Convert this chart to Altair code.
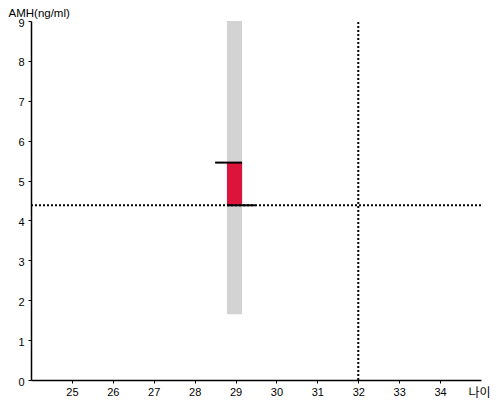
import altair as alt
import pandas as pd

# data
bar_x = [28.79]
bar_x2 = [29.16]
range_low = [1.65]
range_high = [9.0]
val_low = [4.38]
val_high = [5.45]
top_tick_x = [28.5]
top_tick_x2 = [29.16]
bot_tick_x = [28.79]
bot_tick_x2 = [29.48]
x_domain = [24, 35]
y_domain = [0, 9]
x_ticks = [25, 26, 27, 28, 29, 30, 31, 32, 33, 34]
y_ticks = [0, 1, 2, 3, 4, 5, 6, 7, 8, 9]
vline_x = [32]

xs = alt.Scale(domain=x_domain, nice=False, zero=False)
ys = alt.Scale(domain=y_domain, nice=False)

xaxis = alt.Axis(values=x_ticks, title="나이", grid=False, domainColor="black",
                 tickColor="black", tickSize=3, labelPadding=3, labelFontSize=11,
                 labelColor="black", labelFont="Liberation Sans", labelOverlap=False,
                 titleFont="Noto Sans CJK KR", titleFontSize=12, titleFontWeight="normal",
                 titleAlign="left", titleBaseline="alphabetic", titleAnchor="start",
                 titleX=437, titleY=16, titleColor="black", domainWidth=1.5)
yaxis = alt.Axis(values=y_ticks, title="AMH(ng/ml)", grid=False, domainColor="black",
                 tickColor="black", tickSize=3, labelPadding=4, labelFontSize=11,
                 labelColor="black", labelFont="Liberation Sans", labelOverlap=False,
                 labelBound=False, labelFlush=False, labelOffset=2,
                 titleFont="Liberation Sans", titleFontSize=11.5, titleFontWeight="normal",
                 titleAngle=0, titleAlign="left", titleBaseline="alphabetic",
                 titleAnchor="start", titleX=-23, titleY=-5, titleColor="black", domainWidth=1.5)

df_bar = pd.DataFrame({"x": bar_x, "x2": bar_x2, "lo": range_low, "hi": range_high,
                       "vlo": val_low, "vhi": val_high})
df_top = pd.DataFrame({"x": top_tick_x, "x2": top_tick_x2, "y": val_high})
df_bot = pd.DataFrame({"x": bot_tick_x, "x2": bot_tick_x2, "y": val_low})
df_h = pd.DataFrame({"x": [x_domain[0]], "x2": [x_domain[1]], "y": val_low})
df_v = pd.DataFrame({"x": vline_x, "y": [y_domain[0]], "y2": [y_domain[1]]})


def X(f):
    return alt.X(f, type="quantitative", scale=xs, axis=xaxis, title="나이")


def Y(f):
    return alt.Y(f, type="quantitative", scale=ys, axis=yaxis, title="AMH(ng/ml)")


gray = alt.Chart(df_bar).mark_rect(color="#d3d3d3").encode(
    x=X("x"), x2="x2", y=Y("lo"), y2="hi")
red = alt.Chart(df_bar).mark_rect(color="#dc143c").encode(
    x=X("x"), x2="x2", y=Y("vlo"), y2="vhi")
hline = alt.Chart(df_h).mark_rule(color="black", strokeWidth=2, strokeDash=[2, 2]).encode(
    x=X("x"), x2="x2", y=Y("y"))
vline = alt.Chart(df_v).mark_rule(color="black", strokeWidth=2, strokeDash=[2, 2]).encode(
    x=X("x"), y=Y("y"), y2="y2")
top = alt.Chart(df_top).mark_rule(color="black", strokeWidth=2).encode(
    x=X("x"), x2="x2", y=Y("y"))
bot = alt.Chart(df_bot).mark_rule(color="black", strokeWidth=2).encode(
    x=X("x"), x2="x2", y=Y("y"))

chart = alt.layer(gray, red, hline, vline, top, bot).properties(
    width=450, height=359,
    autosize=alt.AutoSizeParams(type="none"),
    padding={"left": 23, "top": 13, "right": 11, "bottom": 20},
).configure_view(stroke=None).configure_axis(labelOverlap=False)

chart.save("out.html", embed_options={"renderer": "svg", "actions": False})
